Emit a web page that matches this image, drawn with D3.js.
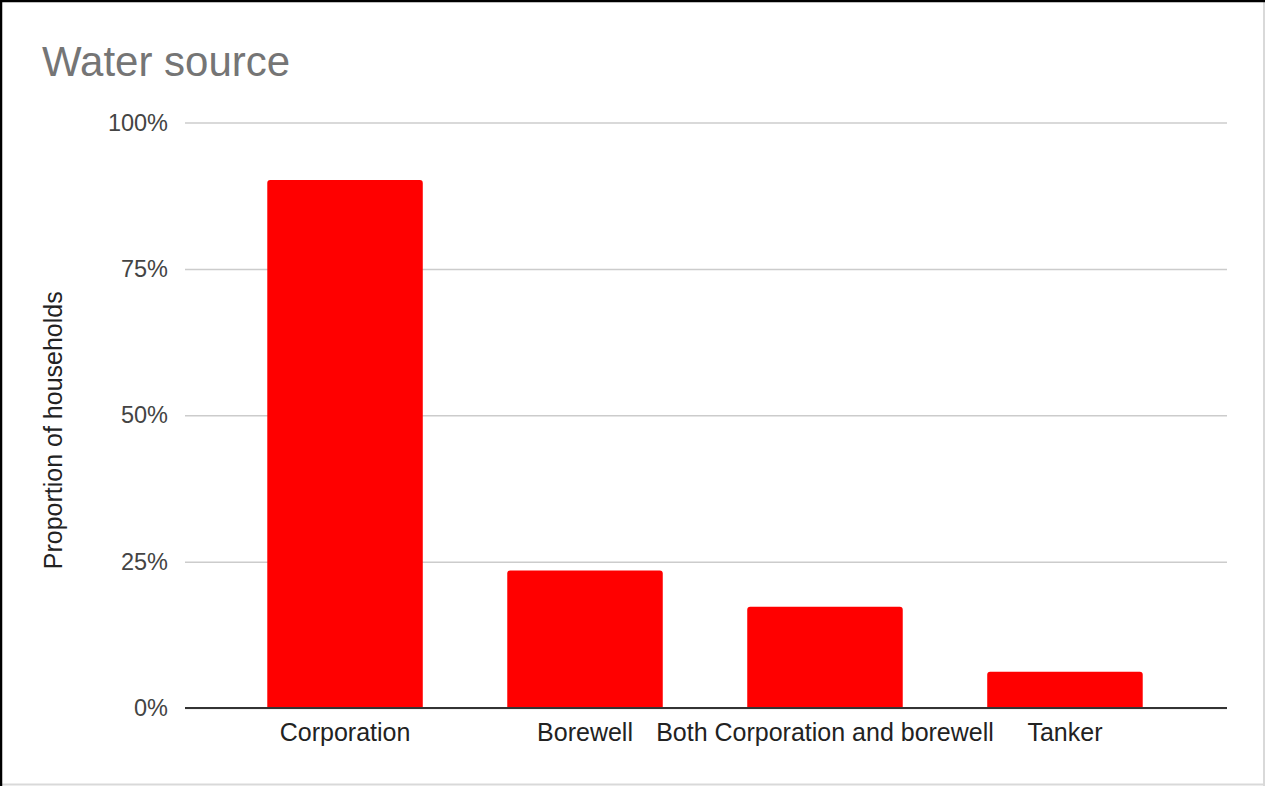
<!DOCTYPE html>
<html>
<head>
<meta charset="utf-8">
<script src="https://cdn.jsdelivr.net/npm/d3@7"></script>
<style>
  html, body { margin: 0; padding: 0; background: #fff; }
  svg { display: block; font-family: Arial, "Liberation Sans", sans-serif; }
</style>
</head>
<body>
<svg id="chart" width="1265" height="786"></svg>
<script>
// Household water sources (% of households)
const categories = ["Corporation", "Borewell", "Both Corporation and borewell", "Tanker"];
const shares = [90.2, 23.5, 17.3, 6.2];
const yTicks = [0, 25, 50, 75, 100];
const chartTitle = "Water source";
const yTitle = "Proportion of households";

const W = 1265, H = 786;
const plot = { left: 185, right: 1227, top: 122.5, bottom: 708 };

const svg = d3.select("#chart");

// frame
svg.append("rect").attr("x", 0).attr("y", 0).attr("width", W).attr("height", H).attr("fill", "#fff");
svg.append("line").attr("x1", W - 1).attr("x2", W - 1).attr("y1", 0).attr("y2", H).attr("stroke", "#d9d9d9").attr("stroke-width", 2);
svg.append("line").attr("x1", 0).attr("x2", W).attr("y1", H - 1.5).attr("y2", H - 1.5).attr("stroke", "#d9d9d9").attr("stroke-width", 2);
svg.append("line").attr("x1", 1).attr("x2", 1).attr("y1", 0).attr("y2", H).attr("stroke", "#000").attr("stroke-width", 2.5);
svg.append("line").attr("x1", 0).attr("x2", W).attr("y1", 1).attr("y2", 1).attr("stroke", "#000").attr("stroke-width", 2.5);

const x = d3.scaleBand()
  .domain(categories)
  .range([plot.left - 1, plot.right - 1])
  .paddingInner(0.352)
  .paddingOuter(0.347);

const y = d3.scaleLinear().domain([0, 100]).range([plot.bottom, plot.top]);

// title
svg.append("text")
  .attr("x", 42).attr("y", 76)
  .attr("font-size", 42).attr("fill", "#757575")
  .text(chartTitle);

// gridlines + y tick labels
const yAxis = d3.axisLeft(y).tickValues(yTicks).tickFormat(d => d + "%")
  .tickSize(-(plot.right - plot.left)).tickPadding(17);
const gy = svg.append("g").attr("transform", `translate(${plot.left},0)`).call(yAxis);
gy.select(".domain").remove();
gy.selectAll(".tick line").attr("stroke", "#cccccc").attr("stroke-width", 1.5);
gy.selectAll(".tick text").attr("font-size", 23.5).attr("fill", "#444").attr("font-family", "Arial, 'Liberation Sans', sans-serif");

// y axis title
svg.append("text")
  .attr("transform", `translate(62,${(plot.top + plot.bottom) / 2 + 15}) rotate(-90)`)
  .attr("text-anchor", "middle")
  .attr("font-size", 25).attr("fill", "#222")
  .text(yTitle);

// bars with rounded top corners
const r = 3;
function barPath(x0, w, yTop, yBase) {
  return `M${x0},${yBase} V${yTop + r} Q${x0},${yTop} ${x0 + r},${yTop} H${x0 + w - r} Q${x0 + w},${yTop} ${x0 + w},${yTop + r} V${yBase} Z`;
}
svg.append("g").selectAll("path")
  .data(categories.map((c, i) => ({ c, v: shares[i] })))
  .join("path")
  .attr("d", d => barPath(x(d.c), x.bandwidth(), y(d.v), y(0)))
  .attr("fill", "#ff0000");

// baseline + category labels
const xAxis = d3.axisBottom(x).tickSize(0).tickPadding(15);
const gx = svg.append("g").attr("transform", `translate(0,${plot.bottom})`).call(xAxis);
gx.select(".domain").remove();
gx.selectAll(".tick text").attr("font-size", 25).attr("fill", "#222").attr("font-family", "Arial, 'Liberation Sans', sans-serif");
svg.append("line")
  .attr("x1", plot.left).attr("x2", plot.right)
  .attr("y1", y(0)).attr("y2", y(0))
  .attr("stroke", "#333").attr("stroke-width", 2);
</script>
</body>
</html>
